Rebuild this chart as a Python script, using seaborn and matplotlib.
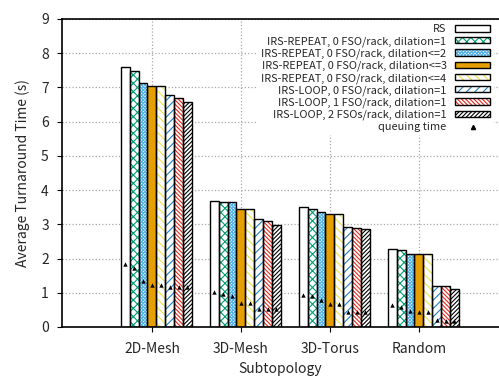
import pandas as pd
import matplotlib
matplotlib.use("Agg")
import matplotlib.pyplot as plt
import seaborn as sns
from matplotlib.patches import Patch, Rectangle
from matplotlib.lines import Line2D
from matplotlib.legend_handler import HandlerTuple

topologies = ['2D-Mesh', '3D-Mesh', '3D-Torus', 'Random']
methods = [
    'RS',
    'IRS-REPEAT, 0 FSO/rack, dilation=1',
    'IRS-REPEAT, 0 FSO/rack, dilation<=2',
    'IRS-REPEAT, 0 FSO/rack, dilation<=3',
    'IRS-REPEAT, 0 FSO/rack, dilation<=4',
    'IRS-LOOP, 0 FSO/rack, dilation=1',
    'IRS-LOOP, 1 FSO/rack, dilation=1',
    'IRS-LOOP, 2 FSOs/rack, dilation=1',
]

# average turnaround time (s), one list per method, in topology order
turnaround = [
    [7.60, 3.69, 3.50, 2.27],
    [7.48, 3.66, 3.46, 2.24],
    [7.13, 3.65, 3.37, 2.13],
    [7.05, 3.44, 3.30, 2.13],
    [7.05, 3.44, 3.30, 2.13],
    [6.78, 3.15, 2.91, 1.20],
    [6.68, 3.10, 2.89, 1.20],
    [6.58, 2.99, 2.87, 1.10],
]
# queuing time part (s)
queuing = [
    [1.84, 1.03, 0.94, 0.63],
    [1.73, 0.97, 0.90, 0.59],
    [1.34, 0.90, 0.78, 0.48],
    [1.23, 0.70, 0.68, 0.45],
    [1.23, 0.70, 0.68, 0.45],
    [1.17, 0.54, 0.43, 0.20],
    [1.17, 0.52, 0.43, 0.17],
    [1.17, 0.52, 0.43, 0.17],
]

face_colors = ['white', 'white', 'white', '#e69f00', 'white', 'white', 'white', 'white']
hatch_colors = ['black', '#009e73', '#56b4e9', '#e69f00', '#f0e442', '#1f7fc4', '#e8281c', 'black']
hatches = ['', 'xxxx', 'x' * 10, '', '\\' * 4, '////', '\\' * 8, '/' * 8]

rows = []
for m, vals in zip(methods, turnaround):
    for t, v in zip(topologies, vals):
        rows.append({'topology': t, 'method': m, 'time': v})
df = pd.DataFrame(rows)

sns.set_theme(style='white')
plt.rcParams['font.family'] = ['Noto Sans CJK JP', 'DejaVu Sans']
plt.rcParams['hatch.linewidth'] = 0.8

fig = plt.figure(figsize=(4.99, 3.76), dpi=100)
ax = fig.add_axes([62 / 499, 1 - 327 / 376, 437 / 499, (327 - 19) / 376])

sns.barplot(data=df, x='topology', y='time', hue='method', order=topologies,
            hue_order=methods, palette=face_colors, saturation=1, width=0.8,
            gap=0, errorbar=None, legend=False, ax=ax, zorder=2)

qx, qy = [], []
for k, cont in enumerate(ax.containers):
    for p in cont.patches:
        p.set_facecolor(face_colors[k])
        p.set_edgecolor(hatch_colors[k])
        p.set_hatch(hatches[k])
        p.set_linewidth(0)
        ax.add_patch(Rectangle((p.get_x(), p.get_y()), p.get_width(), p.get_height(),
                               fill=False, edgecolor='black', lw=1.0, zorder=3))
        cx = p.get_x() + p.get_width() / 2
        qx.append(cx)
        qy.append(queuing[k][int(round(cx))])

ax.scatter(qx, qy, marker='^', s=10, color='black', zorder=4, linewidths=0)

ticks = [i - 0.05 for i in range(len(topologies))]
ax.set_xticks(ticks)
ax.set_xticklabels(topologies, fontsize=10)
ax.set_xlim(ticks[0] - 1.01, ticks[0] + 3.9)
ax.set_ylim(0, 9)
ax.set_yticks(range(10))
ax.tick_params(axis='y', labelsize=10, pad=6)
ax.tick_params(axis='x', pad=7.5)
ax.tick_params(direction='out', length=3.5, width=0.8, color='black', left=True, bottom=True)
ax.grid(True, color='#a8a8a8', linestyle=':', linewidth=0.9, zorder=0)
ax.set_axisbelow(True)
for s in ax.spines.values():
    s.set_color('black')
    s.set_linewidth(1.2)
ax.spines['right'].set_visible(False)
ax.set_xlabel('Subtopology', fontsize=10, labelpad=4)
ax.set_ylabel('Average Turnaround Time (s)', fontsize=10, labelpad=8)

handles = []
for k in range(len(methods)):
    handles.append((Patch(facecolor=face_colors[k], edgecolor=hatch_colors[k], hatch=hatches[k], lw=0),
                    Patch(fill=False, edgecolor='black', lw=1.0)))
handles.append(Line2D([], [], marker='^', color='black', linestyle='none', markersize=3))
labels = methods + ['queuing time']
leg = ax.legend(handles, labels, loc='upper right', markerfirst=False, fontsize=7.9,
                handler_map={tuple: HandlerTuple(ndivide=1)}, handlelength=3.2,
                handleheight=0.5, handletextpad=0.8, labelspacing=0.16,
                frameon=True, fancybox=False, framealpha=1, borderaxespad=0.2,
                borderpad=0.3, bbox_to_anchor=(0.993, 1.0))
leg.get_frame().set_edgecolor('none')
leg.get_frame().set_facecolor('white')

fig.savefig('out.png', dpi=100)
